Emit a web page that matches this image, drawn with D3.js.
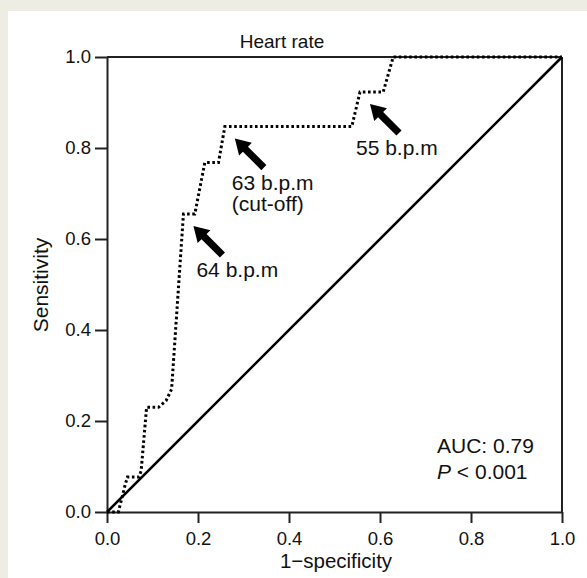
<!DOCTYPE html>
<html>
<head>
<meta charset="utf-8">
<script src="https://cdn.jsdelivr.net/npm/d3@7"></script>
<style>
  body { margin: 0; background: #eeede4; }
  text { font-family: "Liberation Sans", Arial, sans-serif; fill: #111; }
</style>
</head>
<body>
<svg id="chart" width="587" height="578"></svg>
<script>
'use strict';

// ROC curve (1-specificity, sensitivity)
var fpr = [0, 0.025, 0.04, 0.045, 0.07, 0.075, 0.087, 0.113, 0.13, 0.142, 0.168, 0.193, 0.215, 0.245, 0.259, 0.538, 0.556, 0.607, 0.629, 1.0];
var tpr = [0, 0, 0.06, 0.077, 0.077, 0.09, 0.23, 0.23, 0.245, 0.27, 0.655, 0.655, 0.768, 0.768, 0.847, 0.847, 0.923, 0.923, 1.0, 1.0];

var xTicks = [0, 0.2, 0.4, 0.6, 0.8, 1.0];
var yTicks = [0, 0.2, 0.4, 0.6, 0.8, 1.0];

var title = 'Heart rate',
    xLabel = '1\u2212specificity',
    yLabel = 'Sensitivity';

// annotated thresholds: point on the curve + label lines
var noteX = [0.556, 0.259, 0.168];
var noteY = [0.923, 0.847, 0.655];
var noteLines = [['55 b.p.m'], ['63 b.p.m', '(cut-off)'], ['64 b.p.m']];

var aucText = 'AUC: 0.79',
    pText = '< 0.001';

///////////////////////////////////////
var margin = {left: 107, top: 57},
    width = 455,
    height = 455;

var svg = d3.select('#chart');

// white panel
svg.append('rect')
  .attr('x', 8).attr('y', 11)
  .attr('width', 587 - 8).attr('height', 578 - 11)
  .attr('fill', '#fff');

var g = svg.append('g')
  .attr('transform', 'translate(' + margin.left + ',' + margin.top + ')');

var x = d3.scaleLinear().domain([0, 1]).range([0, width]);
var y = d3.scaleLinear().domain([0, 1]).range([height, 0]);

var fmt = d3.format('.1f');

var xAxis = g.append('g')
  .attr('transform', 'translate(0,' + height + ')')
  .call(d3.axisBottom(x).tickValues(xTicks).tickFormat(fmt)
    .tickSize(11).tickPadding(9).tickSizeOuter(0));

var yAxis = g.append('g')
  .call(d3.axisLeft(y).tickValues(yTicks).tickFormat(fmt)
    .tickSize(12).tickPadding(4).tickSizeOuter(0));

[xAxis, yAxis].forEach(function (ax) {
  ax.selectAll('.domain').attr('stroke', '#222').attr('stroke-width', 2);
  ax.selectAll('.tick line').attr('stroke', '#222').attr('stroke-width', 2);
  ax.selectAll('.tick text')
    .attr('font-size', 18.5)
    .attr('font-family', '"Liberation Sans", Arial, sans-serif')
    .attr('fill', '#111');
});

// top and right frame lines
g.append('line')
  .attr('x1', 0).attr('x2', width).attr('y1', 0).attr('y2', 0)
  .attr('stroke', '#222').attr('stroke-width', 2);
g.append('line')
  .attr('x1', width).attr('x2', width).attr('y1', 0).attr('y2', height)
  .attr('stroke', '#222').attr('stroke-width', 2);

// reference diagonal
g.append('line')
  .attr('x1', x(0)).attr('y1', y(0))
  .attr('x2', x(1)).attr('y2', y(1))
  .attr('stroke', '#000').attr('stroke-width', 2.6);

// ROC curve (dotted)
var line = d3.line()
  .x(function (d) { return x(d[0]); })
  .y(function (d) { return y(d[1]); });

g.append('path')
  .datum(d3.zip(fpr, tpr))
  .attr('d', line)
  .attr('fill', 'none')
  .attr('stroke', '#000')
  .attr('stroke-width', 3)
  .attr('stroke-dasharray', '2.6 2.6');

// arrows and labels
var labelDx = [-14, -3, 3];

function arrowPath(x0, y0, x1, y1) {
  var dx = x1 - x0, dy = y1 - y0,
      len = Math.sqrt(dx * dx + dy * dy),
      ux = dx / len, uy = dy / len,
      px = -uy, py = ux,
      shaft = 3.6, head = 9, headLen = 15,
      bx = x1 - ux * headLen, by = y1 - uy * headLen;
  var pts = [
    [x0 + px * shaft, y0 + py * shaft],
    [bx + px * shaft, by + py * shaft],
    [bx + px * head, by + py * head],
    [x1, y1],
    [bx - px * head, by - py * head],
    [bx - px * shaft, by - py * shaft],
    [x0 - px * shaft, y0 - py * shaft]
  ];
  return 'M' + pts.join('L') + 'Z';
}

noteX.forEach(function (nx, i) {
  var tipX = x(nx) + 10,
      tipY = y(noteY[i]) + 12,
      tailX = tipX + 29,
      tailY = tipY + 29;

  g.append('path')
    .attr('d', arrowPath(tailX, tailY, tipX, tipY))
    .attr('fill', '#000');

  var t = g.append('text')
    .attr('x', tipX + labelDx[i])
    .attr('y', tipY + 51)
    .attr('font-size', 21);

  noteLines[i].forEach(function (s, j) {
    t.append('tspan')
      .attr('x', tipX + labelDx[i])
      .attr('dy', j === 0 ? 0 : 21.5)
      .text(s);
  });
});

// AUC / P
g.append('text')
  .attr('x', 330).attr('y', 396)
  .attr('font-size', 21)
  .text(aucText);

var pt = g.append('text')
  .attr('x', 330).attr('y', 422)
  .attr('font-size', 21);
pt.append('tspan').attr('font-style', 'italic').text('P');
pt.append('tspan').text(' ' + pText);

// titles
svg.append('text')
  .attr('x', 282).attr('y', 48)
  .attr('text-anchor', 'middle')
  .attr('font-size', 19)
  .text(title);

svg.append('text')
  .attr('x', 336).attr('y', 568)
  .attr('text-anchor', 'middle')
  .attr('font-size', 20.5)
  .text(xLabel);

svg.append('text')
  .attr('transform', 'translate(48,285) rotate(-90)')
  .attr('text-anchor', 'middle')
  .attr('font-size', 21)
  .text(yLabel);
</script>
</body>
</html>
